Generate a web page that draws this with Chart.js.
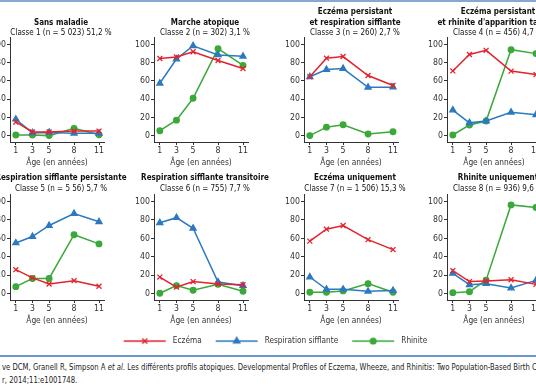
<!DOCTYPE html>
<html>
<head>
<meta charset="utf-8">
<script src="https://cdn.jsdelivr.net/npm/chart.js@4.4.0/dist/chart.umd.min.js"></script>
<style>
html, body { margin: 0; padding: 0; background: #fff; }
body { width: 536px; height: 386px; overflow: hidden; position: relative;
  font-family: "Liberation Sans Narrow", "DejaVu Sans Condensed", "Liberation Sans", sans-serif; color: #222; }
.pane { position: absolute; }
.ttl { position: absolute; width: 220px; text-align: center; font-size: 9.3px; line-height: 10.5px; white-space: nowrap; color: #111;
  transform: scaleX(0.86); transform-origin: 50% 0; }
.ttl b { font-weight: bold; }
#topbar { position: absolute; left: 0; top: 0; width: 536px; height: 2px; background: #86a9d2; }
#sep { position: absolute; left: 0; top: 355px; width: 536px; height: 2px; background: #6b98cc; }
#src { position: absolute; left: 2px; top: 361px; font-size: 8.8px; line-height: 13px; white-space: nowrap; color: #222;
  transform: scaleX(0.87); transform-origin: 0 0; }
</style>
</head>
<body>
<div id="topbar"></div>
<div id="sep"></div>
<div id="src">ve DCM, Granell R, Simpson A <i>et al.</i> Les différents profils atopiques. Developmental Profiles of Eczema, Wheeze, and Rhinitis: Two Population-Based Birth Cohort Studies. PLoS Medicine<br>r, 2014;11:e1001748.</div>
<script>
var FONT = '"Liberation Sans Narrow", "DejaVu Sans Condensed", "Liberation Sans", sans-serif';

var ages = [1, 3, 5, 8, 11];
var yTicks = [0, 20, 40, 60, 80, 100];
var seriesNames = ['Eczéma', 'Respiration sifflante', 'Rhinite'];

var classTitles = [
  ['Sans maladie'],
  ['Marche atopique'],
  ['Eczéma persistant', 'et respiration sifflante'],
  ['Eczéma persistant', 'et rhinite d\'apparition tardive'],
  ['Respiration sifflante persistante'],
  ['Respiration sifflante transitoire'],
  ['Eczéma uniquement'],
  ['Rhinite uniquement']
];
var classSubtitles = [
  'Classe 1 (n = 5 023) 51,2 %',
  'Classe 2 (n = 302) 3,1 %',
  'Classe 3 (n = 260) 2,7 %',
  'Classe 4 (n = 456) 4,7 %',
  'Classe 5 (n = 5 56) 5,7 %',
  'Classe 6 (n = 755) 7,7 %',
  'Classe 7 (n = 1 506) 15,3 %',
  'Classe 8 (n = 936) 9,6 %'
];

// one row per class, values at ages 1, 3, 5, 8, 11
var eczema = [
  [15, 4, 4, 5, 5],
  [84.6, 86.4, 92, 82.5, 73.6],
  [64.6, 85, 86.8, 66, 55],
  [71, 89, 93.6, 70.8, 67],
  [26, 17, 10.4, 14, 7.9],
  [17.9, 7, 13, 10.4, 9.6],
  [57, 70, 74, 58.6, 47.8],
  [25, 13, 13.6, 15, 10]
];
var wheeze = [
  [18, 3, 3.5, 2.5, 2.5],
  [57.5, 84, 98.6, 88.6, 87],
  [64.6, 72.5, 73.6, 53, 53.2],
  [28, 14, 16, 25.6, 22.8],
  [55, 62, 74, 87, 78],
  [77, 82.5, 71, 12.5, 8.6],
  [18, 4.7, 4.7, 2.5, 3.2],
  [22, 9.6, 10.7, 6, 14.3]
];
var rhinitis = [
  [0.7, 0.7, 0, 8, 1],
  [5.4, 17, 41, 95.4, 77],
  [0, 9.3, 12, 1.8, 4.3],
  [0.7, 11.7, 16, 94.3, 90],
  [7.5, 16.4, 16.4, 64, 54],
  [0.4, 8.6, 3.6, 10, 2.5],
  [1.4, 1.4, 2.9, 10.8, 1.4],
  [1, 2, 14.6, 96.4, 93.6]
];

var RED = '#e3232b', BLUE = '#2c79c1', GREEN = '#3aa93a';
var styles = [
  {color: RED, point: 'crossRot', r: 3.5},
  {color: BLUE, point: 'triangle', r: 3.5},
  {color: GREEN, point: 'circle', r: 2.8}
];

// layout of the 2 x 4 grid (plot area edges)
var colLeft = [10, 154, 304, 447];
var rowTop = [35, 192];
var rowBottom = [142, 300];
var YW = 30, XH = 26, PT = 4, PR = 12, AW = 94;

function toPoints(vals) {
  var pts = [];
  for (var i = 0; i < ages.length; i++) pts.push({x: ages[i], y: vals[i]});
  return pts;
}

function makePanel(k) {
  var col = k % 4, row = Math.floor(k / 4);
  var areaLeft = colLeft[col], areaTop = rowTop[row], areaH = rowBottom[row] - rowTop[row];
  var w = YW + AW + PR, h = PT + areaH + XH;

  var box = document.createElement('div');
  box.className = 'pane';
  box.style.left = (areaLeft - YW) + 'px';
  box.style.top = (areaTop - PT) + 'px';
  var cv = document.createElement('canvas');
  cv.width = w; cv.height = h;
  box.appendChild(cv);
  document.body.appendChild(box);

  // titles
  var lines = classTitles[k].map(function(t) { return '<b>' + t + '</b>'; });
  lines.push(classSubtitles[k]);
  var LH = 10.5;
  var lastCenter = row == 0 ? 32.5 : 188;
  var t = document.createElement('div');
  t.className = 'ttl';
  t.innerHTML = lines.join('<br>');
  t.style.left = (areaLeft + AW / 2 + 4 - 110) + 'px';
  t.style.top = (lastCenter - (lines.length - 0.5) * LH) + 'px';
  document.body.appendChild(t);

  var groups = [eczema, wheeze, rhinitis];
  var datasets = [];
  for (var s = 0; s < 3; s++) {
    datasets.push({
      label: seriesNames[s],
      data: toPoints(groups[s][k]),
      borderColor: styles[s].color,
      backgroundColor: styles[s].color,
      borderWidth: 1.5,
      pointStyle: styles[s].point,
      pointRadius: styles[s].r,
      pointBorderWidth: 1.3,
      tension: 0
    });
  }

  new Chart(cv.getContext('2d'), {
    type: 'line',
    data: {datasets: datasets},
    options: {
      responsive: false,
      animation: false,
      layout: {padding: {top: PT, right: PR, left: 0, bottom: 0}},
      plugins: {legend: {display: false}, tooltip: {enabled: false}},
      scales: {
        x: {
          type: 'linear', min: 0.3, max: 11.6,
          afterBuildTicks: function(sc) { sc.ticks = ages.map(function(v) { return {value: v}; }); },
          afterFit: function(sc) { sc.height = XH; },
          grid: {drawOnChartArea: false, tickLength: 3, color: '#333'},
          border: {color: '#333', width: 1},
          ticks: {padding: 1, color: '#333', maxRotation: 0, autoSkip: false, font: {family: FONT, size: 8.7}},
          title: {display: true, text: 'Âge (en années)', color: '#333', padding: 0, font: {family: FONT, size: 8.3}}
        },
        y: {
          min: -7, max: 108,
          afterBuildTicks: function(sc) { sc.ticks = yTicks.map(function(v) { return {value: v}; }); },
          afterFit: function(sc) { sc.width = YW; },
          grid: {drawOnChartArea: false, tickLength: 3, color: '#333'},
          border: {color: '#333', width: 1},
          ticks: {padding: 1, color: '#333', font: {family: FONT, size: 8.7}}
        }
      }
    }
  });
}

for (var k = 0; k < 8; k++) makePanel(k);

// legend, drawn by a chart with no plot
function legendIcon(st) {
  var c = document.createElement('canvas');
  c.width = 48; c.height = 10;
  var g = c.getContext('2d');
  g.strokeStyle = st.color; g.fillStyle = st.color; g.lineWidth = 1.5;
  g.beginPath(); g.moveTo(3, 5); g.lineTo(45, 5); g.stroke();
  Chart.helpers.drawPoint(g, {pointStyle: st.point, radius: st.r, borderWidth: 1.5, rotation: 0}, 24, 5);
  return c;
}
var icons = styles.map(legendIcon);

var lgBox = document.createElement('div');
lgBox.className = 'pane';
lgBox.style.left = '6px';
lgBox.style.top = '326px';
var lgCv = document.createElement('canvas');
lgCv.width = 536; lgCv.height = 80;
lgBox.appendChild(lgCv);
document.body.appendChild(lgBox);

new Chart(lgCv.getContext('2d'), {
  type: 'line',
  data: {datasets: seriesNames.map(function(n, i) {
    return {label: n, data: [], borderColor: styles[i].color, backgroundColor: styles[i].color};
  })},
  options: {
    responsive: false,
    animation: false,
    layout: {padding: 0},
    scales: {x: {display: false}, y: {display: false}},
    plugins: {
      tooltip: {enabled: false},
      legend: {
        display: true,
        position: 'top',
        labels: {
          usePointStyle: true,
          pointStyleWidth: 48,
          boxHeight: 10,
          padding: 11,
          color: '#333',
          font: {family: FONT, size: 8.2},
          generateLabels: function(chart) {
            return seriesNames.map(function(n, i) {
              return {text: n, pointStyle: icons[i], fillStyle: styles[i].color,
                strokeStyle: styles[i].color, lineWidth: 0, hidden: false, datasetIndex: i, fontColor: '#333'};
            });
          }
        }
      }
    }
  }
});
</script>
</body>
</html>
